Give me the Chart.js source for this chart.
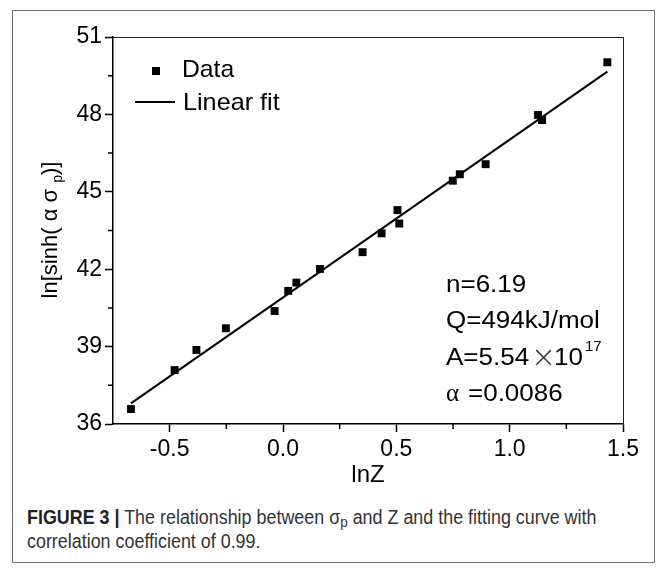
<!DOCTYPE html>
<html>
<head>
<meta charset="utf-8">
<script src="https://cdn.jsdelivr.net/npm/chart.js@4.4.1/dist/chart.umd.min.js"></script>
<style>
  body { margin: 0; background: #fff; }
  #frame { position: absolute; left: 12px; top: 10px; width: 643px; height: 553px; border: 1.5px solid #6e6e6e; box-sizing: border-box; }
  #plot { position: absolute; left: 0; top: 0; }
  #caption { position: absolute; left: 27px; top: 505px; width: 700px; font-family: "Liberation Sans Narrow", "Arial Narrow", "Liberation Sans", sans-serif; font-size: 20px; line-height: 24px; color: #333; transform: scaleX(0.895); transform-origin: 0 0; }
  #caption b { color: #222; }
  #caption sub { font-size: 15px; vertical-align: -3px; line-height: 0; }
</style>
</head>
<body>
<div id="frame"></div>
<canvas id="plot" width="667" height="495"></canvas>
<div id="caption"><b>FIGURE 3 |</b> The relationship between σ<sub>p</sub> and Z and the fitting curve with<br>correlation coefficient of 0.99.</div>
<script>
// lnZ vs ln[sinh(ασp)]
const lnZ = [-0.671, -0.478, -0.382, -0.252, -0.037, 0.023, 0.059, 0.163, 0.351, 0.435, 0.505, 0.513, 0.749, 0.780, 0.894, 1.125, 1.143, 1.431];
const lnSinh = [36.58, 38.09, 38.87, 39.71, 40.38, 41.16, 41.48, 42.01, 42.66, 43.39, 44.29, 43.77, 45.43, 45.68, 46.07, 47.98, 47.78, 50.02];

// ends of the fitted line
const fitX = [-0.671, 1.431];
const fitY = [36.80, 49.66];

const xTicks = [-0.5, 0, 0.5, 1, 1.5];
const xMinor = [-0.25, 0.25, 0.75, 1.25];
const yTicks = [36, 39, 42, 45, 48, 51];
const yMinor = [37.5, 40.5, 43.5, 46.5, 49.5];

const seriesNames = ['Data', 'Linear fit'];
const notes = ['n=6.19', 'Q=494kJ/mol'];

const FONT = 'Liberation Sans, Arial, sans-serif';

// text a little wider than the font, as in the original figure
function wideText(ctx, txt, x, y, sx) {
  ctx.save();
  ctx.translate(x, y);
  ctx.scale(sx, 1);
  ctx.fillText(txt, 0, 0);
  ctx.restore();
}

// minor ticks, top/right frame, legend, y title and fit parameters
const extras = {
  id: 'extras',
  afterDraw(chart) {
    const ctx = chart.ctx;
    const a = chart.chartArea;
    const xs = chart.scales.x, ys = chart.scales.y;
    ctx.save();
    ctx.strokeStyle = '#000';
    ctx.lineWidth = 1.5;
    ctx.beginPath();
    xMinor.forEach(v => { const p = xs.getPixelForValue(v); ctx.moveTo(p, a.bottom); ctx.lineTo(p, a.bottom + 5); });
    yMinor.forEach(v => { const p = ys.getPixelForValue(v); ctx.moveTo(a.left - 5, p); ctx.lineTo(a.left, p); });
    ctx.stroke();

    ctx.lineWidth = 1;
    ctx.strokeStyle = '#222';
    ctx.beginPath();
    ctx.moveTo(a.left, a.top + 0.5); ctx.lineTo(a.right + 0.5, a.top + 0.5); ctx.lineTo(a.right + 0.5, a.bottom);
    ctx.stroke();

    // legend
    ctx.fillStyle = '#000';
    ctx.fillRect(152, 67, 8, 8);
    ctx.lineWidth = 2;
    ctx.strokeStyle = '#000';
    ctx.beginPath(); ctx.moveTo(135, 102); ctx.lineTo(175, 102); ctx.stroke();
    ctx.font = '24px ' + FONT;
    ctx.textBaseline = 'alphabetic';
    wideText(ctx, seriesNames[0], 182, 77, 1.03);
    wideText(ctx, seriesNames[1], 183, 110, 1.05);

    // fit parameters
    const sx = 1.13;
    ctx.font = '23px ' + FONT;
    wideText(ctx, notes[0], 446, 292, sx);
    wideText(ctx, notes[1], 446, 328, sx);
    wideText(ctx, 'A=5.54', 446, 365, sx);
    ctx.fillStyle = '#333';
    ctx.font = '200 30px "DejaVu Sans ExtraLight", "DejaVu Sans", sans-serif';
    ctx.fillText('×', 531, 367);
    ctx.fillStyle = '#000';
    ctx.font = '23px ' + FONT;
    wideText(ctx, '10', 554, 365, sx);
    ctx.font = '15px ' + FONT;
    ctx.fillText('17', 585, 351);
    ctx.font = '25px Liberation Serif, serif';
    ctx.fillText('α', 446, 401);
    ctx.font = '23px ' + FONT;
    wideText(ctx, '=0.0086', 468, 401, sx);

    // y title with subscript
    ctx.translate(57, 230);
    ctx.rotate(-Math.PI / 2);
    const t1 = 'ln[sinh( α σ ', t2 = 'p', t3 = ')]';
    ctx.font = '22px ' + FONT;
    const w1 = ctx.measureText(t1).width, w3 = ctx.measureText(t3).width;
    ctx.font = '14px ' + FONT;
    const w2 = ctx.measureText(t2).width;
    let x0 = -(w1 + w2 + w3) / 2;
    ctx.font = '22px ' + FONT;
    ctx.fillText(t1, x0, 0);
    ctx.font = '14px ' + FONT;
    ctx.fillText(t2, x0 + w1, 5);
    ctx.font = '22px ' + FONT;
    ctx.fillText(t3, x0 + w1 + w2, 0);
    ctx.restore();
  }
};

const points = lnZ.map((x, i) => ({ x: x, y: lnSinh[i] }));
const fitLine = fitX.map((x, i) => ({ x: x, y: fitY[i] }));

new Chart(document.getElementById('plot'), {
  type: 'scatter',
  data: {
    datasets: [
      { label: seriesNames[0], data: points, pointStyle: 'rect', pointRadius: 5.6, backgroundColor: '#000', borderWidth: 0, showLine: false },
      { label: seriesNames[1], data: fitLine, showLine: true, borderColor: '#000', borderWidth: 2, pointRadius: 0 }
    ]
  },
  options: {
    responsive: false,
    animation: false,
    layout: { padding: { left: 0, top: 37, right: 44, bottom: 0 } },
    plugins: { legend: { display: false }, tooltip: { enabled: false } },
    scales: {
      x: {
        type: 'linear', min: -0.75, max: 1.5,
        afterBuildTicks: s => { s.ticks = xTicks.map(v => ({ value: v })); },
        afterFit: s => { s.height = 71; },
        grid: { drawOnChartArea: false, tickLength: 8, tickWidth: 1.5, tickColor: '#000' },
        border: { color: '#000', width: 1.5 },
        ticks: { color: '#000', font: { family: FONT, size: 23 }, padding: 4, maxRotation: 0, callback: v => v.toFixed(1) },
        title: { display: true, text: 'lnZ', color: '#000', font: { family: FONT, size: 24 }, padding: { top: 0, bottom: 5 } }
      },
      y: {
        type: 'linear', min: 36, max: 51,
        afterBuildTicks: s => { s.ticks = yTicks.map(v => ({ value: v })); },
        afterFit: s => { s.width = 113; },
        grid: { drawOnChartArea: false, tickLength: 8, tickWidth: 1.5, tickColor: '#000' },
        border: { color: '#000', width: 1.5 },
        ticks: { color: '#000', font: { family: FONT, size: 23 }, padding: 3 }
      }
    }
  },
  plugins: [extras]
});
</script>
</body>
</html>
